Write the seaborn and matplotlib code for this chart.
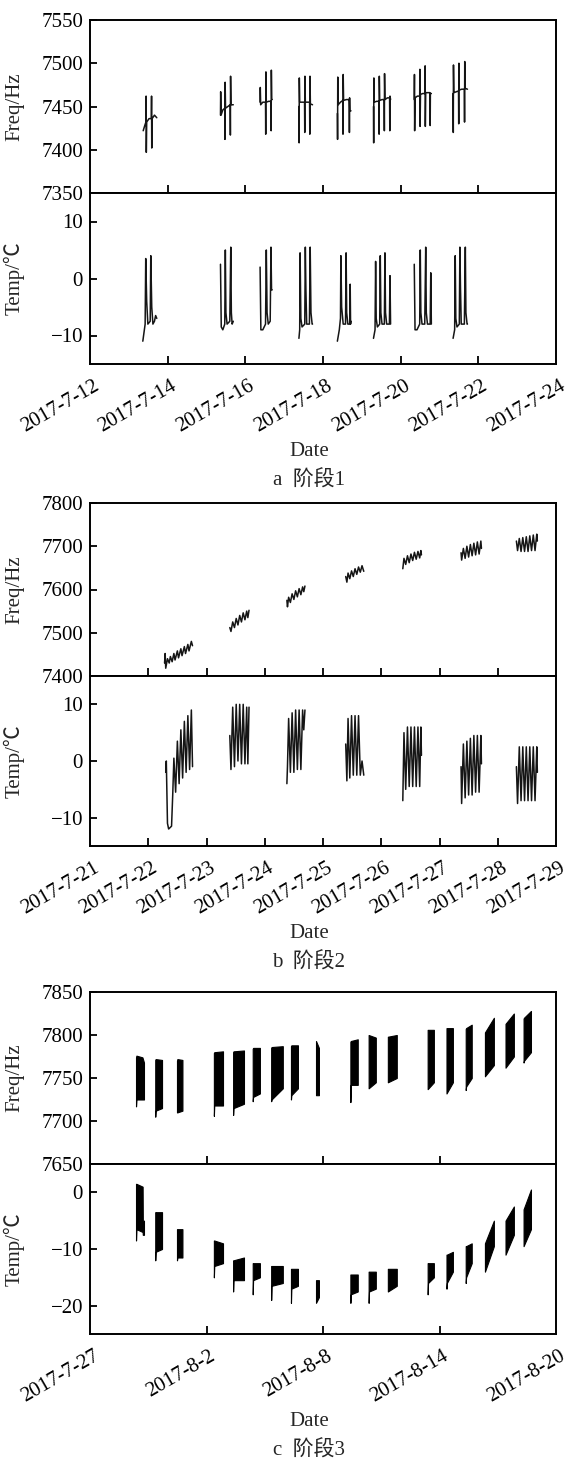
"""频率/温度 三个阶段的时间序列"""
import numpy as np
import pandas as pd
import matplotlib
matplotlib.use('Agg')
import matplotlib.pyplot as plt
import matplotlib.dates as mdates
import matplotlib.transforms as mtrans
from matplotlib.ticker import FuncFormatter, MultipleLocator
import seaborn as sns

# times are "day of July 2017" (Aug 1 = 32), one inner list per measuring day

# ---- 阶段1 ----
A_FREQ = [
    [(13.37, 7422), (13.41, 7428), (13.44, 7432), (13.445, 7462), (13.45, 7397), (13.46, 7432),
     (13.52, 7436), (13.58, 7436), (13.585, 7462), (13.59, 7402), (13.60, 7436), (13.66, 7440), (13.72, 7437)],
    [(15.36, 7440), (15.365, 7467), (15.375, 7440), (15.42, 7446), (15.47, 7448), (15.475, 7412),
     (15.48, 7478), (15.49, 7448), (15.55, 7450), (15.61, 7452), (15.615, 7417), (15.62, 7485),
     (15.63, 7452), (15.69, 7452)],
    [(16.38, 7455), (16.385, 7472), (16.395, 7452), (16.45, 7455), (16.52, 7455), (16.525, 7418),
     (16.53, 7490), (16.54, 7455), (16.60, 7456), (16.66, 7456), (16.665, 7422), (16.67, 7492),
     (16.68, 7458), (16.69, 7458)],
    [(17.38, 7450), (17.385, 7408), (17.39, 7483), (17.40, 7455), (17.46, 7455), (17.525, 7455),
     (17.53, 7420), (17.535, 7485), (17.545, 7455), (17.60, 7455), (17.655, 7455), (17.66, 7418),
     (17.665, 7485), (17.675, 7453), (17.73, 7452)],
    [(18.37, 7442), (18.375, 7412), (18.38, 7484), (18.39, 7452), (18.45, 7455), (18.51, 7457),
     (18.515, 7418), (18.52, 7487), (18.53, 7457), (18.60, 7458), (18.675, 7458), (18.68, 7420),
     (18.685, 7460), (18.69, 7445), (18.72, 7445)],
    [(19.30, 7450), (19.305, 7408), (19.31, 7483), (19.32, 7455), (19.38, 7456), (19.44, 7456),
     (19.445, 7418), (19.45, 7485), (19.46, 7457), (19.52, 7458), (19.575, 7458), (19.58, 7422),
     (19.585, 7488), (19.595, 7458), (19.66, 7460), (19.715, 7460), (19.72, 7422), (19.725, 7462),
     (19.74, 7458)],
    [(20.35, 7458), (20.355, 7487), (20.36, 7422), (20.37, 7460), (20.43, 7462), (20.49, 7462),
     (20.495, 7493), (20.50, 7427), (20.51, 7464), (20.57, 7465), (20.625, 7465), (20.63, 7497),
     (20.635, 7427), (20.645, 7466), (20.70, 7466), (20.755, 7466), (20.76, 7428), (20.765, 7465),
     (20.79, 7465)],
    [(21.35, 7465), (21.355, 7420), (21.36, 7498), (21.37, 7466), (21.43, 7467), (21.49, 7468),
     (21.495, 7430), (21.50, 7500), (21.51, 7469), (21.57, 7470), (21.64, 7470), (21.645, 7432),
     (21.65, 7502), (21.66, 7471), (21.72, 7470)],
]
A_TEMP = [
    [(13.36, -11), (13.42, -8), (13.435, 3.5), (13.46, -4), (13.49, -8), (13.55, -7.5), (13.565, 4),
     (13.59, -5), (13.62, -8), (13.66, -7.5), (13.69, -6.5), (13.72, -7)],
    [(15.36, 2.5), (15.38, -8.5), (15.42, -9), (15.47, -8), (15.485, 5), (15.50, -6), (15.53, -8),
     (15.60, -7.5), (15.625, 5.5), (15.64, -6), (15.66, -8), (15.69, -7.5)],
    [(16.38, 2), (16.40, -9), (16.45, -9), (16.52, -8), (16.54, 5), (16.56, -6), (16.59, -8),
     (16.64, -7.5), (16.66, 5.5), (16.675, -2), (16.69, -2)],
    [(17.38, -10.5), (17.40, -9), (17.41, 4.5), (17.43, -7), (17.46, -8.5), (17.53, -8), (17.545, 5.5),
     (17.56, -2), (17.58, -8), (17.65, -8), (17.67, 5.5), (17.69, -6), (17.72, -8), (17.73, -8)],
    [(18.37, -11), (18.42, -9), (18.45, -7), (18.46, 4), (18.48, -5), (18.52, -8), (18.58, -8),
     (18.595, 4.5), (18.61, -6), (18.64, -8), (18.69, -8), (18.70, -1), (18.71, -8), (18.72, -7.5)],
    [(19.30, -10.5), (19.34, -9), (19.355, 3), (19.37, -7), (19.40, -8.5), (19.46, -8), (19.475, 4),
     (19.49, -6), (19.52, -8), (19.58, -8), (19.595, 4.5), (19.61, -6), (19.64, -8), (19.71, -8),
     (19.725, 0.5), (19.74, -8)],
    [(20.35, 2.5), (20.37, -9), (20.42, -9), (20.49, -8), (20.505, 5), (20.52, -6), (20.55, -8),
     (20.62, -8), (20.645, 5.5), (20.66, -6), (20.69, -8), (20.76, -8), (20.775, 1), (20.79, -8)],
    [(21.35, -10.5), (21.39, -9), (21.405, 4), (21.42, -7), (21.45, -8.5), (21.51, -8), (21.525, 5.5),
     (21.54, -1.5), (21.56, -8), (21.64, -8), (21.665, 5.5), (21.68, -6), (21.71, -8), (21.72, -8)],
]

# ---- 阶段2 ----
B_FREQ = [
    [(22.28, 7430), (22.29, 7452), (22.30, 7418), (22.33, 7440), (22.36, 7430), (22.38, 7445),
     (22.41, 7433), (22.44, 7452), (22.46, 7437), (22.50, 7458), (22.52, 7442), (22.56, 7463),
     (22.58, 7447), (22.62, 7468), (22.64, 7452), (22.68, 7473), (22.70, 7458), (22.74, 7480), (22.76, 7470)],
    [(23.40, 7512), (23.42, 7503), (23.45, 7525), (23.48, 7512), (23.51, 7533), (23.54, 7518),
     (23.57, 7540), (23.60, 7525), (23.63, 7546), (23.66, 7530), (23.69, 7550), (23.71, 7535), (23.73, 7552)],
    [(24.38, 7575), (24.39, 7560), (24.41, 7582), (24.44, 7570), (24.47, 7590), (24.50, 7577),
     (24.53, 7597), (24.56, 7583), (24.59, 7602), (24.62, 7588), (24.65, 7606), (24.67, 7595), (24.69, 7608)],
    [(25.39, 7630), (25.41, 7617), (25.43, 7638), (25.46, 7625), (25.49, 7643), (25.52, 7630),
     (25.55, 7648), (25.58, 7635), (25.61, 7652), (25.64, 7640), (25.67, 7655), (25.70, 7642)],
    [(26.37, 7648), (26.39, 7672), (26.42, 7658), (26.45, 7678), (26.48, 7662), (26.51, 7682),
     (26.54, 7667), (26.57, 7686), (26.60, 7670), (26.63, 7688), (26.66, 7673), (26.68, 7690), (26.69, 7680)],
    [(27.37, 7685), (27.38, 7668), (27.41, 7695), (27.44, 7672), (27.47, 7700), (27.50, 7675),
     (27.53, 7704), (27.56, 7678), (27.59, 7707), (27.62, 7680), (27.65, 7710), (27.68, 7682),
     (27.71, 7712), (27.72, 7695)],
    [(28.32, 7712), (28.34, 7690), (28.37, 7718), (28.40, 7688), (28.43, 7720), (28.46, 7688),
     (28.49, 7722), (28.52, 7688), (28.55, 7724), (28.58, 7690), (28.61, 7726), (28.64, 7690),
     (28.67, 7728), (28.68, 7712)],
]
B_TEMP = [
    [(22.30, -2), (22.31, 0), (22.33, -11), (22.35, -12), (22.40, -11.5), (22.42, -6), (22.44, 0.5),
     (22.47, -5.5), (22.50, 3.5), (22.53, -4), (22.56, 5.5), (22.59, -3), (22.62, 7), (22.65, -2),
     (22.68, 8), (22.71, -1.5), (22.74, 9), (22.76, -1)],
    [(23.40, 4.5), (23.42, -1.5), (23.45, 9.5), (23.48, -1), (23.51, 10), (23.54, 0), (23.57, 10),
     (23.60, -0.5), (23.63, 10), (23.66, -0.5), (23.69, 9.5), (23.71, -0.5), (23.73, 9.5)],
    [(24.38, -4), (24.39, -1), (24.41, 7.5), (24.44, -2), (24.47, 8.5), (24.50, -2), (24.53, 9),
     (24.56, -1.5), (24.59, 9), (24.62, -1.5), (24.65, 9), (24.67, 5.5), (24.69, 9)],
    [(25.39, 3), (25.41, -3.5), (25.43, 7.5), (25.46, -3), (25.49, 8), (25.52, -2.5), (25.55, 8),
     (25.58, -2.5), (25.61, 8), (25.64, -2.5), (25.67, 0), (25.70, -2.5)],
    [(26.37, -7), (26.39, 5), (26.42, -5), (26.45, 6), (26.48, -4.5), (26.51, 6), (26.54, -4.5),
     (26.57, 6), (26.60, -4.5), (26.63, 6), (26.66, -4.5), (26.68, 6), (26.69, 1)],
    [(27.37, -1), (27.38, -7.5), (27.41, 3), (27.44, -6.5), (27.47, 3.5), (27.50, -6), (27.53, 4),
     (27.56, -6), (27.59, 4.5), (27.62, -5.5), (27.65, 4.5), (27.68, -5.5), (27.71, 4.5), (27.72, -0.5)],
    [(28.32, -1), (28.34, -7.5), (28.37, 2.5), (28.40, -7), (28.43, 2.5), (28.46, -7), (28.49, 2.5),
     (28.52, -7), (28.55, 2.5), (28.58, -7), (28.61, 2.5), (28.64, -7), (28.67, 2.5), (28.68, -2)],
]

# ---- 阶段3: dense records, kept as (day, low, high) envelopes ----
C_FREQ = [
    [(29.37, 7717, 7774), (29.39, 7725, 7776), (29.70, 7725, 7774), (29.78, 7725, 7768)],
    [(30.36, 7705, 7771), (30.38, 7712, 7772), (30.71, 7715, 7771)],
    [(31.48, 7710, 7770), (31.50, 7710, 7772), (31.76, 7712, 7771)],
    [(33.38, 7706, 7779), (33.40, 7718, 7780), (33.85, 7718, 7781)],
    [(34.37, 7707, 7780), (34.39, 7715, 7781), (34.93, 7720, 7782)],
    [(35.38, 7723, 7784), (35.40, 7728, 7785), (35.75, 7732, 7785)],
    [(36.33, 7723, 7785), (36.35, 7725, 7786), (36.93, 7738, 7787)],
    [(37.35, 7725, 7787), (37.37, 7730, 7788), (37.71, 7738, 7788)],
    [(38.64, 7730, 7793), (38.79, 7730, 7785)],
    [(40.41, 7722, 7792), (40.43, 7742, 7793), (40.79, 7742, 7795)],
    [(41.35, 7738, 7800), (41.72, 7745, 7797)],
    [(42.34, 7745, 7798), (42.80, 7750, 7800)],
    [(44.39, 7737, 7806), (44.71, 7745, 7806)],
    [(45.36, 7732, 7808), (45.69, 7745, 7808)],
    [(46.35, 7736, 7807), (46.37, 7740, 7808), (46.66, 7750, 7812)],
    [(47.34, 7752, 7803), (47.80, 7765, 7820)],
    [(48.40, 7762, 7813), (48.83, 7775, 7825)],
    [(49.33, 7768, 7819), (49.35, 7770, 7820), (49.71, 7780, 7828)],
]
C_TEMP = [
    [(29.37, -8.5, 1.5), (29.39, -6.5, 1.5), (29.71, -7, 1), (29.72, -7.5, -5), (29.78, -7.5, -5)],
    [(30.36, -12, -3.5), (30.38, -10.5, -3.5), (30.71, -10, -3.5)],
    [(31.48, -12, -6.5), (31.50, -11.5, -6.5), (31.76, -11.5, -6.5)],
    [(33.38, -15, -8.5), (33.40, -13, -8.5), (33.85, -12.5, -9)],
    [(34.37, -17.5, -12), (34.39, -15.5, -12), (34.93, -15.5, -11.5)],
    [(35.38, -18, -12.5), (35.40, -15.5, -12.5), (35.75, -15, -12.5)],
    [(36.33, -19, -13), (36.35, -16.5, -13), (36.93, -16, -13)],
    [(37.35, -19.5, -13.5), (37.37, -17, -13.5), (37.71, -16.5, -13.5)],
    [(38.64, -19.5, -15.5), (38.79, -18.5, -15.5)],
    [(40.41, -19.5, -14.5), (40.43, -18, -14.5), (40.79, -17.5, -14.5)],
    [(41.35, -19.5, -14), (41.37, -17.5, -14), (41.72, -17, -14)],
    [(42.34, -17.5, -13.5), (42.80, -16.5, -13.5)],
    [(44.39, -18, -12.5), (44.41, -16, -12.5), (44.71, -15, -12.5)],
    [(45.36, -17, -11), (45.38, -16, -11), (45.69, -14, -10.5)],
    [(46.35, -16, -9.5), (46.37, -15, -9.5), (46.66, -12.5, -9)],
    [(47.34, -14, -9), (47.80, -9.5, -5)],
    [(48.40, -11, -5), (48.83, -7.5, -2.5)],
    [(49.33, -9.5, -3), (49.71, -6.5, 0.5)],
]

PANELS = [
    # caption, freq data, temp data, x range, tick step, freq lim, freq step, temp lim
    ('a  阶段1', A_FREQ, A_TEMP, ('2017-07-12', '2017-07-24'), 2, (7350, 7550), 50, (-15, 15)),
    ('b  阶段2', B_FREQ, B_TEMP, ('2017-07-21', '2017-07-29'), 1, (7400, 7800), 100, (-15, 15)),
    ('c  阶段3', C_FREQ, C_TEMP, ('2017-07-27', '2017-08-20'), 6, (7650, 7850), 50, (-25, 5)),
]

# axes boxes in pixels: (top of freq axes, shared edge, bottom of temp axes)
PANEL_PX = [(20, 193, 364), (503, 676, 846), (992, 1164, 1334)]
FIG_W, FIG_H = 568, 1463
LEFT_PX, RIGHT_PX = 90, 556
TEXT_X_PX = 309

FONT = ['Liberation Serif', 'Noto Sans CJK SC', 'DejaVu Sans']
FS = 15
JULY0 = pd.Timestamp('2017-06-30')


def to_time(days):
    return JULY0 + pd.to_timedelta(np.asarray(days, dtype=float), unit='D')


def line_frame(bursts):
    rows = []
    for i, burst in enumerate(bursts):
        for day, val in burst:
            rows.append((i, day, val))
    df = pd.DataFrame(rows, columns=['burst', 'day', 'value'])
    df['time'] = to_time(df['day'])
    return df


def date_label(x, pos):
    d = mdates.num2date(x)
    return f'{d.year}-{d.month}-{d.day}'


def draw_series(ax, bursts):
    if len(bursts[0][0]) == 3:
        for burst in bursts:
            days, lo, hi = zip(*burst)
            ax.fill_between(to_time(days), lo, hi, color='black', linewidth=0.8, edgecolor='black')
    else:
        df = line_frame(bursts)
        sns.lineplot(data=df, x='time', y='value', units='burst', estimator=None,
                     color='#151515', linewidth=1.1, sort=False, ax=ax)


sns.set_theme(style='ticks')
plt.rcParams['font.family'] = FONT
plt.rcParams['axes.unicode_minus'] = True

fig = plt.figure(figsize=(FIG_W / 100, FIG_H / 100), dpi=100)
fig.patch.set_facecolor('white')
shift = mtrans.ScaledTranslation(3 / 100, -6 / 100, fig.dpi_scale_trans)

for (caption, freq, temp, xr, step, flim, fstep, tlim), (top, mid, bot) in zip(PANELS, PANEL_PX):
    left = LEFT_PX / FIG_W
    width = (RIGHT_PX - LEFT_PX) / FIG_W
    ax_f = fig.add_axes([left, 1 - mid / FIG_H, width, (mid - top) / FIG_H])
    ax_t = fig.add_axes([left, 1 - bot / FIG_H, width, (bot - mid) / FIG_H], sharex=ax_f)

    draw_series(ax_f, freq)
    draw_series(ax_t, temp)

    x0, x1 = pd.Timestamp(xr[0]), pd.Timestamp(xr[1])
    ticks = pd.date_range(x0, x1, freq=f'{step}D')
    ax_t.set_xlim(x0, x1)
    ax_t.set_xticks(ticks)
    ax_t.xaxis.set_major_formatter(FuncFormatter(date_label))

    ax_f.set_ylim(*flim)
    ax_f.yaxis.set_major_locator(MultipleLocator(fstep))
    ax_t.set_ylim(*tlim)
    ax_t.yaxis.set_major_locator(MultipleLocator(10))

    for ax in (ax_f, ax_t):
        ax.set_facecolor('white')
        for sp in ax.spines.values():
            sp.set_visible(True)
            sp.set_linewidth(1.4)
            sp.set_color('black')
        ax.tick_params(axis='both', direction='in', labelsize=FS, width=1.3, colors='black', pad=5)
        ax.tick_params(axis='x', length=6)
        ax.tick_params(axis='y', length=5)
        ax.set_xlabel('')
        ax.set_ylabel('')

    # the end dates sit on the frame, no tick drawn there
    for ax in (ax_f, ax_t):
        ticks_obj = ax.xaxis.get_major_ticks()
        ticks_obj[0].tick1line.set_visible(False)
        ticks_obj[-1].tick1line.set_visible(False)

    ax_f.tick_params(axis='x', labelbottom=False)
    for lab in ax_t.get_xticklabels():
        lab.set_rotation(30)
        lab.set_ha('right')
        lab.set_rotation_mode('anchor')
        lab.set_transform(lab.get_transform() + shift)

    ax_f.set_ylabel('Freq/Hz', fontsize=FS)
    ax_t.set_ylabel('Temp/℃', fontsize=FS)
    ax_f.yaxis.set_label_coords(-0.14, 0.5)
    ax_t.yaxis.set_label_coords(-0.14, 0.5)

    fig.text(TEXT_X_PX / FIG_W, 1 - (bot + 88) / FIG_H, 'Date',
             ha='center', va='center', fontsize=FS, family=FONT)
    fig.text(TEXT_X_PX / FIG_W, 1 - (bot + 116) / FIG_H, caption,
             ha='center', va='center', fontsize=FS, family=FONT)

fig.savefig('out.png', dpi=100, facecolor='white')
plt.close(fig)
